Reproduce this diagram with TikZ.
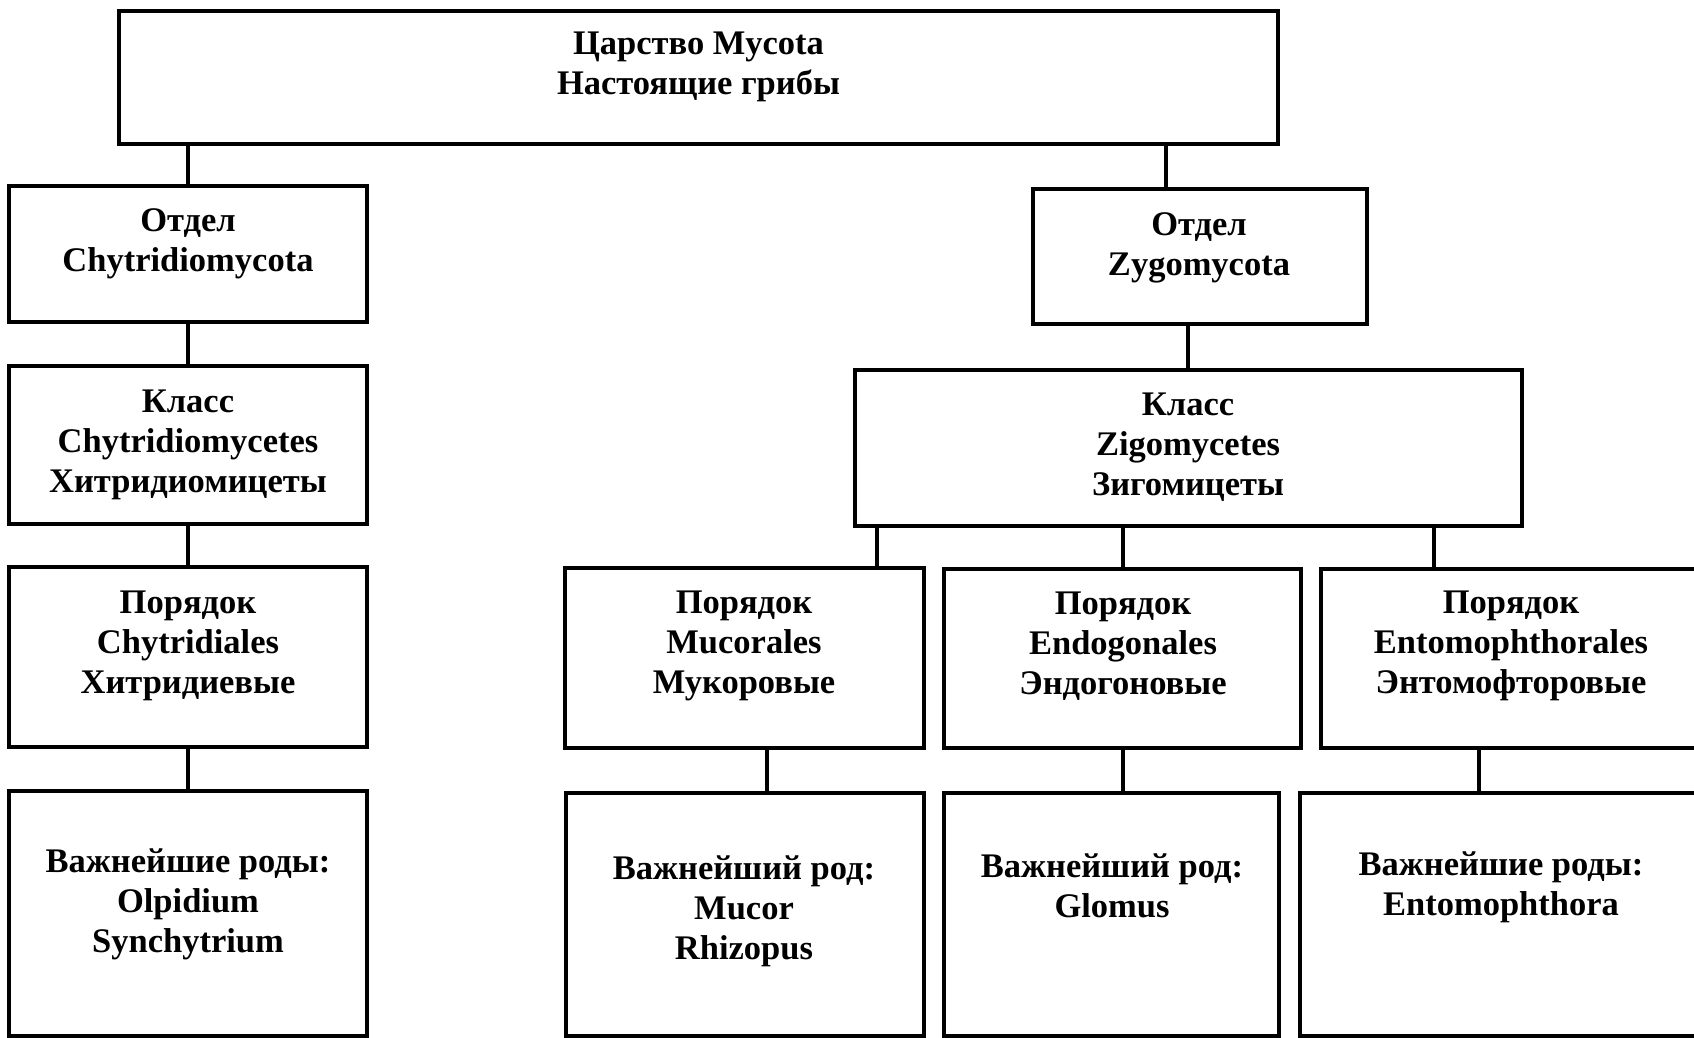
\documentclass[tikz,border=0pt]{standalone}
\usepackage{fontspec}
\setmainfont{Liberation Serif}
\begin{document}
\begin{tikzpicture}[x=1pt,y=-1pt,
  box/.style={draw=black,line width=4pt,rectangle,inner sep=0pt},
  lbl/.style={align=center,font=\fontsize{34.5}{40}\selectfont\bfseries,inner sep=0pt},
  conn/.style={line width=4pt}]
\clip (0,0) rectangle (1694,1037);
\fill[white] (0,0) rectangle (1694,1037);
% boxes
\node[box,minimum width=1159pt,minimum height=133pt] (top) at (698.5,77.5) {};
\node[box,minimum width=358pt,minimum height=136pt] (d1) at (188,254) {};
\node[box,minimum width=334pt,minimum height=135pt] (d2) at (1200,256.5) {};
\node[box,minimum width=358pt,minimum height=158pt] (k1) at (188,445) {};
\node[box,minimum width=667pt,minimum height=156pt] (k2) at (1188.5,448) {};
\node[box,minimum width=358pt,minimum height=180pt] (o1) at (188,657) {};
\node[box,minimum width=359pt,minimum height=180pt] (o2) at (744.5,658) {};
\node[box,minimum width=357pt,minimum height=179pt] (o3) at (1122.5,658.5) {};
\node[box,minimum width=390pt,minimum height=179pt] (o4) at (1516,658.5) {};
\node[box,minimum width=358pt,minimum height=245pt] (g1) at (188,913.5) {};
\node[box,minimum width=358pt,minimum height=243pt] (g2) at (745,914.5) {};
\node[box,minimum width=335pt,minimum height=243pt] (g3) at (1111.5,914.5) {};
\node[box,minimum width=410pt,minimum height=243pt] (g4) at (1505,914.5) {};
% texts
\node[lbl] (ttop) at (698.5,67) {Царство Mycota\\Настоящие грибы};
\node[lbl] (td1) at (188,244) {Отдел\\Chytridiomycota};
\node[lbl] (td2) at (1199,248) {Отдел\\Zygomycota};
\node[lbl] (tk1) at (188,445) {Класс\\Chytridiomycetes\\Хитридиомицеты};
\node[lbl] (tk2) at (1188,447) {Класс\\Zigomycetes\\Зигомицеты};
\node[lbl] (to1) at (188,646) {Порядок\\Chytridiales\\Хитридиевые};
\node[lbl] (to2) at (744,646) {Порядок\\Mucorales\\Мукоровые};
\node[lbl] (to3) at (1123,646) {Порядок\\Endogonales\\Эндогоновые};
\node[lbl] (to4) at (1511,646) {Порядок\\Entomophthorales\\Энтомофторовые};
\node[lbl] (tg1) at (188,904) {Важнейшие роды:\\Olpidium\\Synchytrium};
\node[lbl] (tg2) at (744,911) {Важнейший род:\\Mucor\\Rhizopus};
\node[lbl] (tg3) at (1112,886) {Важнейший род:\\Glomus};
\node[lbl] (tg4) at (1501,887) {Важнейшие роды:\\Entomophthora};
% connectors
\draw[conn] (top.south -| d1.north) -- (d1.north);
\draw[conn] (top.south -| 1166,0) -- (d2.north -| 1166,0);
\draw[conn] (d1.south) -- (k1.north);
\draw[conn] (d2.south -| 1188,0) -- (k2.north -| 1188,0);
\draw[conn] (k1.south) -- (o1.north);
\draw[conn] (k2.south -| 877,0) -- (o2.north -| 877,0);
\draw[conn] (k2.south -| 1123,0) -- (o3.north -| 1123,0);
\draw[conn] (k2.south -| 1434,0) -- (o4.north -| 1434,0);
\draw[conn] (o1.south) -- (g1.north);
\draw[conn] (o2.south -| 767,0) -- (g2.north -| 767,0);
\draw[conn] (o3.south -| 1123,0) -- (g3.north -| 1123,0);
\draw[conn] (o4.south -| 1479,0) -- (g4.north -| 1479,0);
\end{tikzpicture}
\end{document}
